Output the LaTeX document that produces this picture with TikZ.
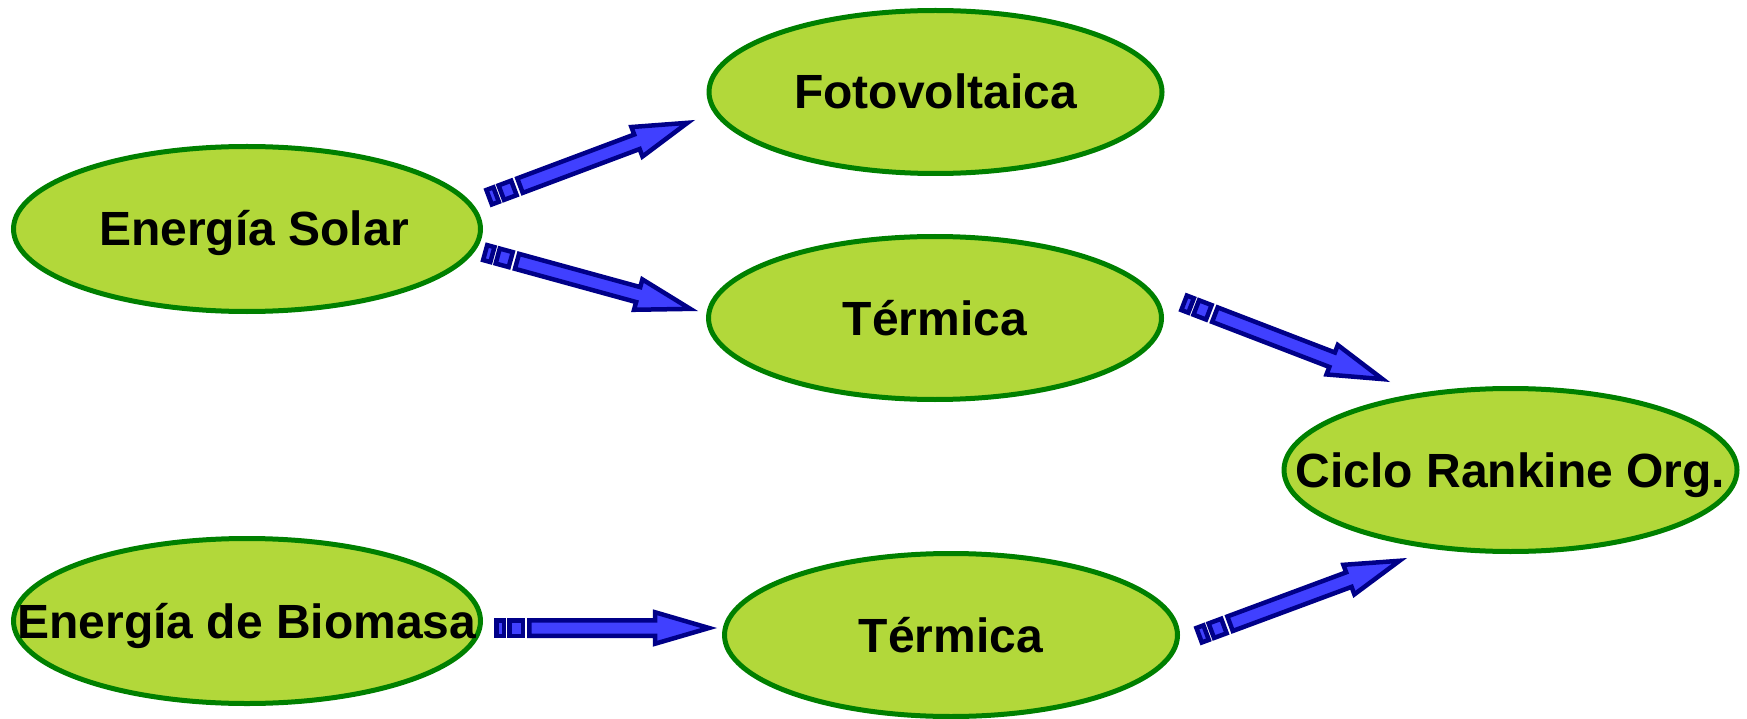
\documentclass[tikz,border=0pt]{standalone}
\usepackage{fontspec}
\setmainfont{Liberation Sans}
\usetikzlibrary{shapes.geometric,calc}
\definecolor{leaf}{RGB}{178,216,58}
\definecolor{rim}{RGB}{0,128,0}
\definecolor{shaft}{RGB}{64,64,255}
\definecolor{navy}{RGB}{0,0,136}
\newcommand{\ctext}[2][0pt]{\makebox[0pt]{\hspace*{#1}#2}}
\tikzset{
    arrowline/.style={draw=navy, fill=shaft, line width=4.5pt, line join=miter},
    pics/stripes/.style={code={
        \path[arrowline] (2.25,-7.75) rectangle (9.75,7.75);
        \path[arrowline] (15.25,-7.75) rectangle (28.75,7.75);
        \path[arrowline] (35.25,-7.75) -- (#1-62,-7.75) -- (#1-62,-15.75) -- (#1-8,0)
            -- (#1-62,15.75) -- (#1-62,7.75) -- (35.25,7.75) -- cycle;
    }}
}
\newcommand{\stripedarrow}[2]{%
  \path let \p1=($(#2)-(#1)$), \n1={atan2(\y1,\x1)}, \n2={veclen(\x1,\y1)} in
    (#1) pic[rotate=\n1] {stripes={\n2}};}

\begin{document}
\begin{tikzpicture}[x=1pt, y=-1pt,
    stage/.style={ellipse, draw=rim, fill=leaf, line width=5pt, inner sep=0pt,
        text height=34pt, text depth=0pt, font=\bfseries\fontsize{48}{56}\selectfont},
    source/.style={stage, minimum width=467pt, minimum height=165pt},
    target/.style={stage, minimum width=453pt, minimum height=163pt}
]
\useasboundingbox (0,0) rectangle (1747,719);
    \node[source] (sol) at (247,229) {\ctext[14pt]{Energía Solar}};
    \node[source] (bio) at (247,621) {\ctext{Energía de Biomasa}};
    \node[target] (foto) at (935.5,92) {\ctext{Fotovoltaica}};
    \node[target] (term) at (935,318) {\ctext{Térmica}};
    \node[target] (termb) at (951,635) {\ctext{Térmica}};
    \node[target] (orc) at (1510.5,470) {\ctext{Ciclo Rankine Org.}};
\coordinate (sf1) at (487,198);  \coordinate (sf2) at (695,120);
\coordinate (st1) at (483,252);  \coordinate (st2) at (698,311);
\coordinate (to1) at (1182,302); \coordinate (to2) at (1390,382);
\coordinate (bt1) at (494,628);  \coordinate (bt2) at (717,628);
\coordinate (bo1) at (1197,636); \coordinate (bo2) at (1407,558);
\stripedarrow{sf1}{sf2}
\stripedarrow{st1}{st2}
\stripedarrow{to1}{to2}
\stripedarrow{bt1}{bt2}
\stripedarrow{bo1}{bo2}
\end{tikzpicture}
\end{document}
